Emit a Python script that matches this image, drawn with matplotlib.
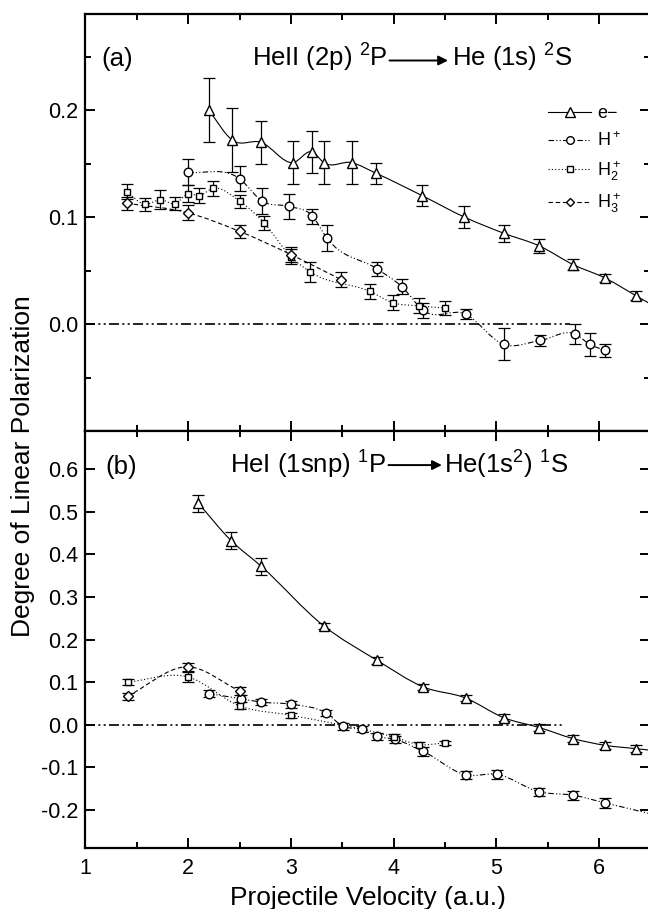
import numpy as np
import matplotlib
matplotlib.use('Agg')
import matplotlib.pyplot as plt
from matplotlib.path import Path
from matplotlib.patches import PathPatch
from matplotlib.lines import Line2D

plt.rcParams['font.family'] = ['Liberation Sans', 'DejaVu Sans']
plt.rcParams['mathtext.fontset'] = 'custom'
plt.rcParams['mathtext.rm'] = 'Liberation Sans'
plt.rcParams['mathtext.it'] = 'Liberation Sans:italic'
plt.rcParams['axes.unicode_minus'] = False

# ---- panel (a): HeII (2p) 2P -> He (1s) 2S ----
a_e_v = [2.20, 2.43, 2.71, 3.02, 3.21, 3.32, 3.59, 3.83, 4.28, 4.69, 5.07, 5.42, 5.75, 6.06, 6.36]
a_e_p = [0.200, 0.172, 0.170, 0.151, 0.161, 0.151, 0.151, 0.141, 0.120, 0.100, 0.085, 0.073, 0.0555, 0.043, 0.0265]
a_e_err = [0.030, 0.030, 0.020, 0.020, 0.020, 0.020, 0.020, 0.010, 0.010, 0.010, 0.008, 0.007, 0.005, 0.004, 0.004]

a_h1_v = [2.00, 2.50, 2.72, 2.98, 3.21, 3.35, 3.84, 4.08, 4.29, 4.70, 5.07, 5.43, 5.77, 5.91, 6.06]
a_h1_p = [0.142, 0.136, 0.115, 0.110, 0.101, 0.0805, 0.0515, 0.035, 0.0127, 0.0093, -0.019, -0.0153, -0.0094, -0.019, -0.0247]
a_h1_err = [0.012, 0.012, 0.012, 0.012, 0.007, 0.012, 0.007, 0.007, 0.007, 0.005, 0.015, 0.0055, 0.0097, 0.0106, 0.0063]

a_h2_v = [1.40, 1.58, 1.73, 1.87, 2.00, 2.11, 2.24, 2.50, 2.74, 3.00, 3.19, 3.77, 3.99, 4.25, 4.50]
a_h2_p = [0.1236, 0.112, 0.1164, 0.1126, 0.122, 0.120, 0.127, 0.115, 0.0945, 0.063, 0.0487, 0.0305, 0.020, 0.017, 0.015]
a_h2_err = [0.007, 0.006, 0.009, 0.006, 0.008, 0.007, 0.007, 0.006, 0.007, 0.007, 0.009, 0.007, 0.007, 0.007, 0.007]

a_h3_v = [1.40, 2.00, 2.50, 3.00, 3.49]
a_h3_p = [0.113, 0.104, 0.0867, 0.065, 0.0415]
a_h3_err = [0.006, 0.007, 0.006, 0.007, 0.007]

# ---- panel (b): HeI (1snp) 1P -> He(1s2) 1S ----
b_e_v = [2.10, 2.42, 2.71, 3.32, 3.84, 4.29, 4.70, 5.07, 5.42, 5.75, 6.06, 6.36]
b_e_p = [0.520, 0.432, 0.3725, 0.232, 0.151, 0.0885, 0.0626, 0.0165, -0.007, -0.033, -0.0487, -0.0565]
b_e_err = [0.020, 0.020, 0.020, 0.008, 0.008, 0.008, 0.008, 0.008, 0.008, 0.008, 0.008, 0.008]

b_h1_v = [2.20, 2.51, 2.71, 3.00, 3.34, 3.51, 3.69, 3.84, 4.01, 4.29, 4.70, 5.01, 5.42, 5.75, 6.06]
b_h1_p = [0.073, 0.061, 0.053, 0.048, 0.0273, -0.004, -0.011, -0.0275, -0.0346, -0.063, -0.118, -0.117, -0.158, -0.166, -0.184]
b_h1_err = [0.008, 0.008, 0.007, 0.008, 0.008, 0.008, 0.007, 0.008, 0.008, 0.010, 0.010, 0.010, 0.010, 0.010, 0.012]

b_h2_v = [1.41, 2.00, 2.50, 3.00, 4.00, 4.25, 4.50]
b_h2_p = [0.100, 0.112, 0.044, 0.022, -0.029, -0.047, -0.043]
b_h2_err = [0.008, 0.012, 0.008, 0.006, 0.006, 0.006, 0.004]

b_h3_v = [1.41, 2.00, 2.50]
b_h3_p = [0.067, 0.136, 0.079]
b_h3_err = [0.008, 0.010, 0.010]

zero_end_a = 5.72
zero_end_b = 5.64

ls_h1 = (0, (5, 2, 1, 2, 1, 2))
ls_h2 = (0, (1, 2))
ls_h3 = (0, (4, 2.5))


def smooth_path(x, y, extend_to=None):
    """cubic hermite curve through the points, as bezier path"""
    x = np.asarray(x, float)
    y = np.asarray(y, float)
    h = np.diff(x)
    s = np.diff(y) / h
    m = np.empty_like(y)
    m[0], m[-1] = s[0], s[-1]
    m[1:-1] = (s[:-1] * h[1:] + s[1:] * h[:-1]) / (h[:-1] + h[1:])
    verts = [(x[0], y[0])]
    codes = [Path.MOVETO]
    for i in range(len(x) - 1):
        d = h[i] / 3
        verts += [(x[i] + d, y[i] + m[i] * d), (x[i + 1] - d, y[i + 1] - m[i + 1] * d), (x[i + 1], y[i + 1])]
        codes += [Path.CURVE4] * 3
    if extend_to is not None:
        verts.append((extend_to, y[-1] + m[-1] * (extend_to - x[-1])))
        codes.append(Path.LINETO)
    return Path(verts, codes)


def series(ax, v, p, err, marker, ms, ls, extend=None):
    ax.add_patch(PathPatch(smooth_path(v, p, extend), fill=False, ec='black', lw=0.8, ls=ls, zorder=2))
    ax.errorbar(v, p, yerr=err, fmt='none', ecolor='black', elinewidth=0.9, capsize=4, capthick=0.9, zorder=3)
    ax.plot(v, p, ls='none', marker=marker, ms=ms, mfc='white', mec='black', mew=1.0, zorder=4)


fig = plt.figure(figsize=(6.48, 9.09), dpi=100)
ax1 = fig.add_axes([0.1319, 0.5259, 0.8718, 0.4587])
ax2 = fig.add_axes([0.1319, 0.0671, 0.8718, 0.4587])

for ax in (ax1, ax2):
    ax.set_xlim(1, 6.5)
    ax.set_xticks([1, 2, 3, 4, 5, 6])
    ax.set_xticks(np.arange(1.5, 6.5, 1.0), minor=True)
    ax.tick_params(which='both', direction='in', top=True, right=True, width=1.4, labelsize=15.5)
    ax.tick_params(which='major', length=7.5, pad=5)
    ax.tick_params(which='minor', length=4.5)
    for sp in ax.spines.values():
        sp.set_linewidth(1.6)

ax1.set_ylim(-0.1, 0.29)
ax1.set_yticks([-0.1, 0.0, 0.1, 0.2])
ax1.set_yticklabels(['', '0.0', '0.1', '0.2'])
ax1.set_yticks([-0.05, 0.05, 0.15, 0.25], minor=True)
ax1.tick_params(labelbottom=False)

ax2.set_ylim(-0.29, 0.69)
ax2.set_yticks(np.arange(-0.2, 0.65, 0.1))
ax2.set_yticklabels(['%.1f' % t for t in np.arange(-0.2, 0.65, 0.1)])
ax2.tick_params(axis='x', pad=7)

# panel (a)
ax1.hlines(0, 1, zero_end_a, color='black', lw=1.2, linestyles=[(0, (6, 2, 1.2, 2, 1.2, 2))], zorder=1)
series(ax1, a_e_v, a_e_p, a_e_err, '^', 7.5, '-', extend=6.6)
series(ax1, a_h1_v, a_h1_p, a_h1_err, 'o', 6.2, ls_h1)
series(ax1, a_h2_v, a_h2_p, a_h2_err, 's', 5.0, ls_h2)
series(ax1, a_h3_v, a_h3_p, a_h3_err, 'D', 5.0, ls_h3)

# panel (b)
ax2.hlines(0, 1, zero_end_b, color='black', lw=1.2, linestyles=[(0, (6, 2, 1.2, 2, 1.2, 2))], zorder=1)
series(ax2, b_e_v, b_e_p, b_e_err, '^', 7.5, '-', extend=6.6)
series(ax2, b_h1_v, b_h1_p, b_h1_err, 'o', 6.2, ls_h1, extend=6.6)
series(ax2, b_h2_v, b_h2_p, b_h2_err, 's', 5.0, ls_h2)
series(ax2, b_h3_v, b_h3_p, b_h3_err, 'D', 5.0, ls_h3)

# panel titles
ax1.text(1.15, 0.241, '(a)', fontsize=18.5, va='baseline')
ax1.text(3.94, 0.241, r'HeII (2p) $^2$P', fontsize=18.5, va='baseline', ha='right')
ax1.annotate('', xy=(4.53, 0.2465), xytext=(3.96, 0.2465),
             arrowprops=dict(arrowstyle='-|>', lw=1.4, color='black', mutation_scale=14, shrinkA=0, shrinkB=0))
ax1.text(4.57, 0.241, r'He (1s) $^2$S', fontsize=18.5, va='baseline', ha='left')

ax2.text(1.19, 0.59, '(b)', fontsize=18.5, va='baseline')
ax2.text(3.93, 0.59, r'HeI (1snp) $^1$P', fontsize=18.5, va='baseline', ha='right')
ax2.annotate('', xy=(4.47, 0.61), xytext=(3.95, 0.61),
             arrowprops=dict(arrowstyle='-|>', lw=1.4, color='black', mutation_scale=14, shrinkA=0, shrinkB=0))
ax2.text(4.49, 0.59, r'He(1s$^2$) $^1$S', fontsize=18.5, va='baseline', ha='left')

# legend
handles = [
    Line2D([], [], color='black', lw=0.8, ls='-', marker='^', ms=6.5, mfc='white', mec='black'),
    Line2D([], [], color='black', lw=0.8, ls=ls_h1, marker='o', ms=5.5, mfc='white', mec='black'),
    Line2D([], [], color='black', lw=0.8, ls=ls_h2, marker='s', ms=4.5, mfc='white', mec='black'),
    Line2D([], [], color='black', lw=0.8, ls=ls_h3, marker='D', ms=4.5, mfc='white', mec='black'),
]
labels = ['e\u2212', r'H$^+$', r'H$_2^+$', r'H$_3^+$']
ax1.legend(handles, labels, loc='upper left', bbox_to_anchor=(0.819, 0.781), frameon=False,
           fontsize=13, handlelength=2.4, handletextpad=0.3, labelspacing=0.5,
           borderpad=0, borderaxespad=0, numpoints=1)

fig.text(0.5675, 0.0044, 'Projectile Velocity (a.u.)', fontsize=19, ha='center', va='baseline')
fig.text(0.035, 0.487, 'Degree of Linear Polarization', fontsize=19, rotation=90, ha='center', va='center')

fig.savefig('out.png', dpi=100)
